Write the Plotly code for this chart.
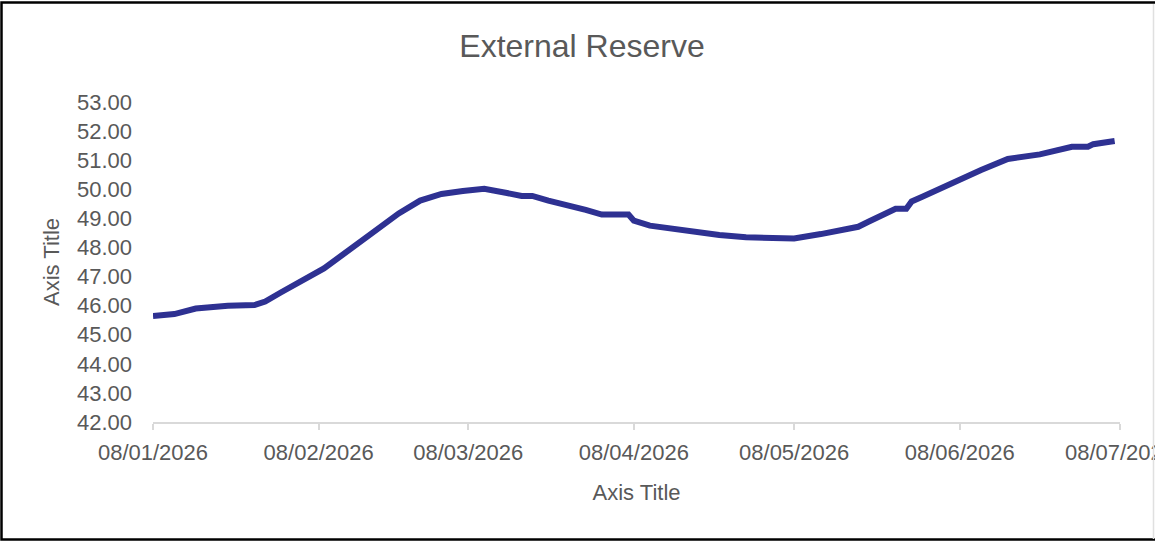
import plotly.graph_objects as go

# ---- data ----
dates = [
    "2026-01-08", "2026-01-12", "2026-01-16", "2026-01-22", "2026-01-27", "2026-01-29",
    "2026-02-01", "2026-02-09", "2026-02-18", "2026-02-23", "2026-02-27",
    "2026-03-03", "2026-03-07", "2026-03-11", "2026-03-15", "2026-03-18", "2026-03-20",
    "2026-03-23", "2026-03-30", "2026-04-02", "2026-04-07", "2026-04-08", "2026-04-11",
    "2026-04-18", "2026-04-24", "2026-04-29", "2026-05-03", "2026-05-08", "2026-05-13",
    "2026-05-20", "2026-05-22", "2026-05-27", "2026-05-29", "2026-05-30", "2026-06-01",
    "2026-06-05", "2026-06-08", "2026-06-12", "2026-06-17", "2026-06-23", "2026-06-29",
    "2026-07-02", "2026-07-03", "2026-07-06", "2026-07-07",
]
reserve = [
    45.64, 45.71, 45.90, 46.00, 46.02, 46.14,
    46.46, 47.28, 48.49, 49.17, 49.61,
    49.84, 49.94, 50.02, 49.88, 49.77, 49.77,
    49.61, 49.29, 49.13, 49.13, 48.92, 48.75,
    48.57, 48.43, 48.35, 48.35, 48.31, 48.46,
    48.71, 48.89, 49.33, 49.33, 49.58, 49.74,
    50.09, 50.30, 50.66, 51.04, 51.20, 51.46,
    51.46, 51.55, 51.60, 51.66,
]
x_tick_vals = ["2026-01-08", "2026-02-08", "2026-03-08", "2026-04-08",
               "2026-05-08", "2026-06-08", "2026-07-08"]
x_tick_text = ["08/01/2026", "08/02/2026", "08/03/2026", "08/04/2026",
               "08/05/2026", "08/06/2026", "08/07/2026"]
y_tick_vals = list(range(42, 54))

# ---- layout constants ----
W, H = 1155, 542
L, R, T, B = 153, 1120, 102, 422
FONT = "Liberation Sans, Arial, sans-serif"
GREY = "#595959"

fig = go.Figure()
fig.add_trace(go.Scatter(
    x=dates, y=reserve, mode="lines",
    line=dict(color="#2E3192", width=6),
    hoverinfo="x+y", showlegend=False,
))

def px_to_paper_x(px):
    return (px - L) / (R - L)

def px_to_paper_y(py):
    return (B - py) / (B - T)

fig.update_layout(
    width=W, height=H,
    margin=dict(l=L, r=W - R, t=T, b=H - B, autoexpand=False),
    paper_bgcolor="white", plot_bgcolor="white",
    font=dict(family=FONT, color=GREY, size=22),
    title=dict(text="External Reserve", x=582 / W, xref="container", xanchor="center",
               y=1 - 46 / H, yref="container", yanchor="middle",
               font=dict(size=32, color=GREY, family=FONT)),
    xaxis=dict(
        type="date", range=["2026-01-08", "2026-07-08"],
        tickmode="array", tickvals=x_tick_vals, ticktext=x_tick_text,
        showgrid=False, zeroline=False,
        showline=True, linecolor="#d9d9d9", linewidth=1.5,
        ticks="outside", ticklen=6, tickcolor="#d9d9d9", tickwidth=1.5,
        ticklabelstandoff=4, ticklabeloverflow="allow",
        tickfont=dict(size=22, color=GREY),
        title=dict(text="Axis Title", standoff=20, font=dict(size=22, color=GREY)),
        automargin=False, fixedrange=True,
    ),
    yaxis=dict(
        range=[42, 53], tickmode="array", tickvals=y_tick_vals,
        tickformat=".2f", showgrid=False, zeroline=False, showline=False,
        ticks="", ticklabelstandoff=20,
        tickfont=dict(size=22, color=GREY),
        title=dict(text="Axis Title", standoff=11, font=dict(size=22, color=GREY)),
        automargin=False, fixedrange=True,
    ),
    shapes=[
        dict(type="rect", xref="paper", yref="paper",
             x0=px_to_paper_x(1.5), x1=px_to_paper_x(1170),
             y0=px_to_paper_y(539.5), y1=px_to_paper_y(2.5),
             line=dict(color="black", width=2.5), fillcolor="rgba(0,0,0,0)", layer="above"),
        dict(type="line", xref="paper", yref="paper",
             x0=px_to_paper_x(1153.5), x1=px_to_paper_x(1153.5),
             y0=px_to_paper_y(539), y1=px_to_paper_y(4),
             line=dict(color="#e0e0e0", width=1.5), layer="above"),
    ],
)

fig.write_html(
    "out.html",
    config={"displayModeBar": False},
    post_script="document.body.style.margin='0px';document.body.style.overflow='hidden';",
)
